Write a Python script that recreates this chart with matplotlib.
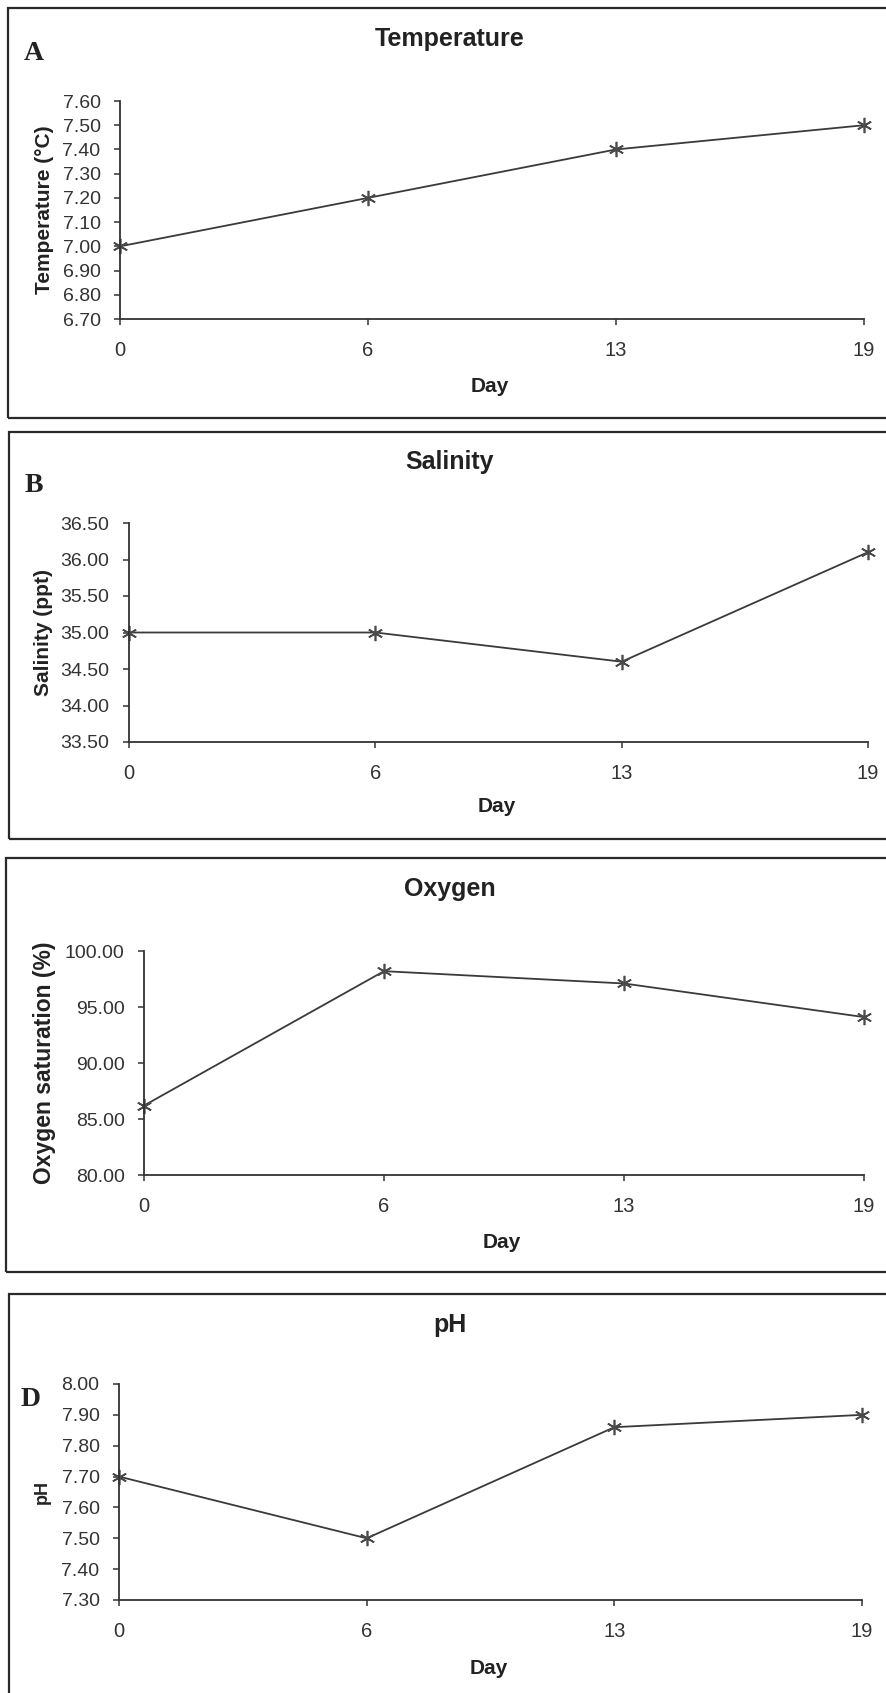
import matplotlib
matplotlib.use("Agg")
import matplotlib.pyplot as plt
from matplotlib.patches import Rectangle

plt.rcParams['font.family'] = ['Liberation Sans', 'DejaVu Sans']

# data
days = ["0", "6", "13", "19"]
temperature = [7.00, 7.20, 7.40, 7.50]
salinity = [35.00, 35.00, 34.60, 36.10]
oxygen = [86.2, 98.2, 97.1, 94.1]
ph = [7.70, 7.50, 7.86, 7.90]

titles = ["Temperature", "Salinity", "Oxygen", "pH"]
ylabels = ["Temperature (°C)", "Salinity (ppt)", "Oxygen saturation (%)", "pH"]
letters = ["A", "B", "", "D"]
ylims = [(6.70, 7.60), (33.50, 36.50), (80.00, 100.00), (7.30, 8.00)]
ysteps = [0.1, 0.5, 5.0, 0.1]
series = [temperature, salinity, oxygen, ph]

W, H = 887, 1693
fig = plt.figure(figsize=(W / 100, H / 100), dpi=100)

# layout in pixels: axes (left, right, top, bottom), box (left, top, bottom),
# title y, letter (x, y), Day y, ylabel x, ylabel size
layout = [
    dict(ax=(120, 864, 101, 319), box=(8, 8, 418), title=39, letter=(34, 54), day=386, ylx=45, yls=15),
    dict(ax=(129, 868, 523, 742), box=(9, 432, 839), title=462, letter=(34, 486), day=806, ylx=44, yls=15),
    dict(ax=(144, 864, 951, 1175), box=(6, 858, 1272), title=889, letter=(0, 0), day=1242, ylx=45, yls=16.5),
    dict(ax=(119, 862, 1384, 1600), box=(9, 1294, 1720), title=1325, letter=(31, 1399), day=1669, ylx=42, yls=13),
]

def fx(x):
    return x / W

def fy(y):
    return 1 - y / H

line_col = "#3a3a3a"

for i in range(4):
    lo = layout[i]
    l, r, t, b = lo["ax"]
    # panel frame
    bl, bt, bb = lo["box"]
    fig.patches.append(Rectangle((fx(bl), fy(bb)), fx(W + 20 - bl), fy(bt) - fy(bb),
                                 transform=fig.transFigure, fill=False,
                                 edgecolor="#2a2a2a", linewidth=1.6))

    ax = fig.add_axes([fx(l), fy(b), fx(r - l), fy(t) - fy(b)])
    x = list(range(len(days)))
    ax.plot(x, series[i], color=line_col, linewidth=1.3, marker=(6, 2, 0),
            markersize=11, markeredgecolor="#4a4a4a", markeredgewidth=1.2, clip_on=False)

    lo_y, hi_y = ylims[i]
    n = int(round((hi_y - lo_y) / ysteps[i]))
    ticks = [lo_y + k * ysteps[i] for k in range(n + 1)]
    ax.set_ylim(lo_y, hi_y)
    ax.set_yticks(ticks)
    ax.set_yticklabels(["%.2f" % v for v in ticks])
    ax.set_xlim(0, len(days) - 1)
    ax.set_xticks(x)
    ax.set_xticklabels(days)

    for s in ["top", "right"]:
        ax.spines[s].set_visible(False)
    for s in ["left", "bottom"]:
        ax.spines[s].set_color("#333333")
        ax.spines[s].set_linewidth(1.3)
    ax.tick_params(axis="y", direction="out", length=4, width=1.1, pad=10,
                   labelsize=14, colors="#333333")
    ax.tick_params(axis="x", direction="out", length=4, width=1.1, pad=12,
                   labelsize=14.5, colors="#333333")
    ax.patch.set_alpha(0)

    fig.text(fx(450), fy(lo["title"]), titles[i], ha="center", va="center",
             fontsize=18, fontweight="bold", color="#222222")
    if letters[i]:
        lx, ly = lo["letter"]
        fig.text(fx(lx), fy(ly), letters[i], ha="center", va="center",
                 fontsize=20, fontweight="bold", family="Liberation Serif", color="#222222")
    fig.text(fx((l + r) / 2 - 2), fy(lo["day"]), "Day", ha="center", va="center",
             fontsize=15, fontweight="bold", color="#222222")
    fig.text(fx(lo["ylx"]), fy((t + b) / 2), ylabels[i], ha="center", va="center",
             rotation=90, fontsize=lo["yls"], fontweight="bold", color="#222222")

fig.savefig("out.png", dpi=100, facecolor="white")
